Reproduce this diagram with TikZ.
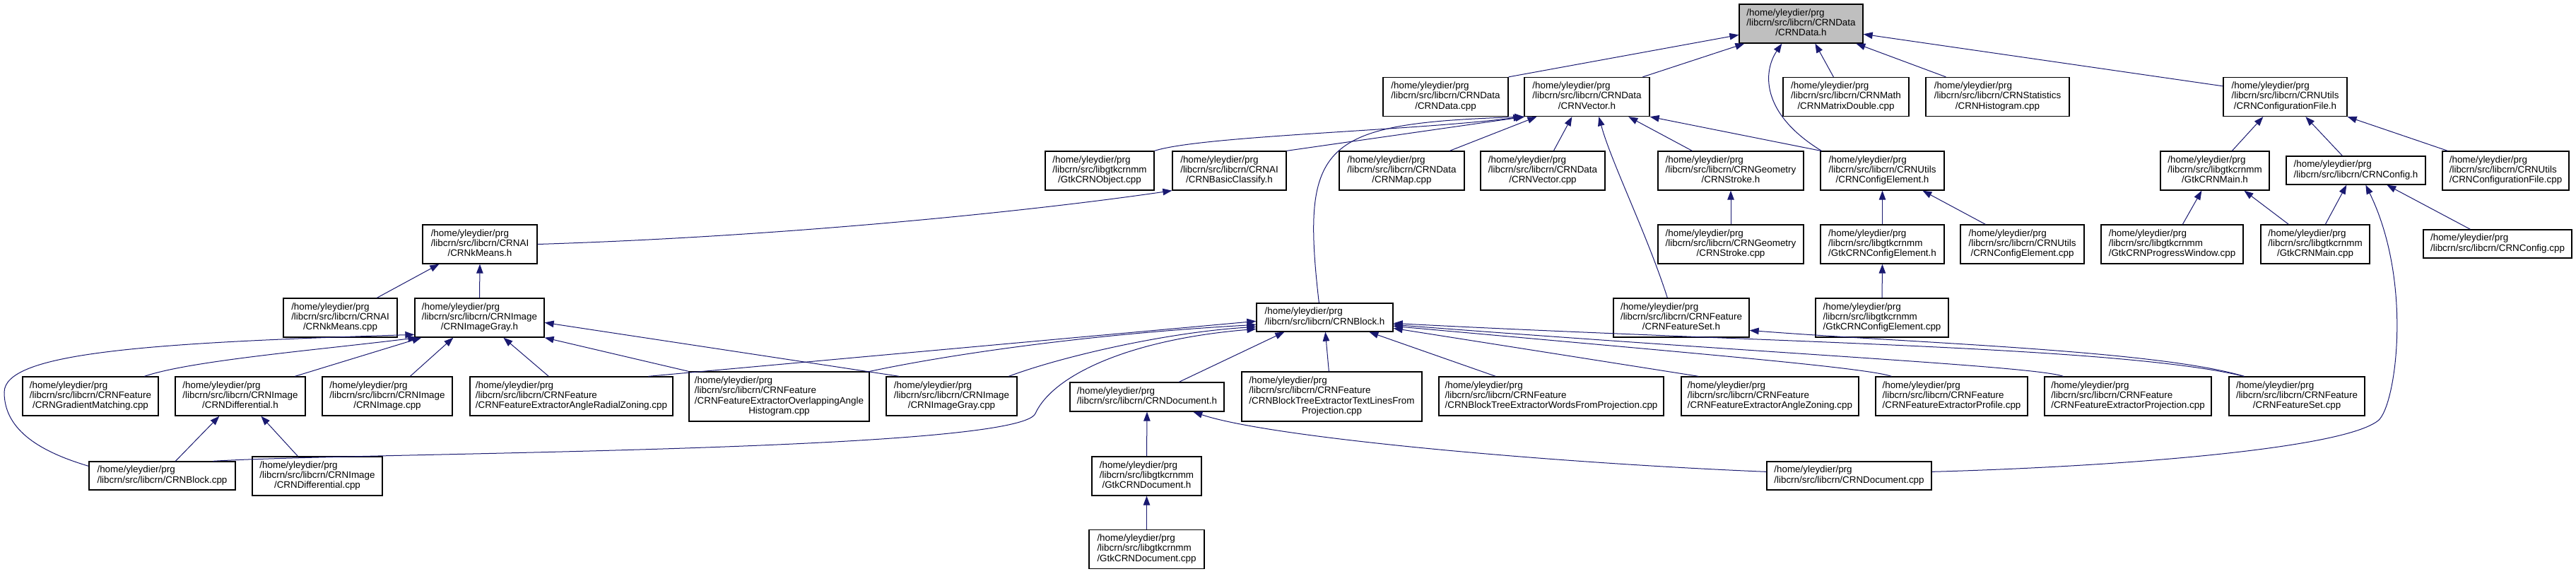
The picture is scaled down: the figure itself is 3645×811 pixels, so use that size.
\documentclass[tikz,border=0pt]{standalone}
\usepackage{fontspec}
\setmainfont{Liberation Sans}
\usetikzlibrary{arrows.meta}
\definecolor{edgeblue}{HTML}{191970}
\definecolor{focusgrey}{HTML}{BFBFBF}
\newcommand{\fpath}[2]{\begin{tabular}{@{}l@{}}#1\\\multicolumn{1}{@{}c@{}}{#2}\end{tabular}}
\tikzset{
  filenode/.style={draw=black, line width=1.3pt, fill=white, inner sep=0pt,
    minimum height=55pt, font=\fontsize{13.4pt}{14.3pt}\selectfont},
  incl/.style={draw=edgeblue, line width=1pt, -{Triangle[length=13pt,width=9.5pt]}},
}
\begin{document}
\begin{tikzpicture}[x=1pt, y=-1pt]
  \useasboundingbox (0,0) rectangle (3645,811);

  \node[filenode, minimum width=175pt, fill=focusgrey] (datah) at (2548.5,33.5) {\fpath{/home/yleydier/prg\\/libcrn/src/libcrn/CRNData}{/CRNData.h}};

  \node[filenode, minimum width=177pt] (datacpp) at (2045.5,137) {\fpath{/home/yleydier/prg\\/libcrn/src/libcrn/CRNData}{/CRNData.cpp}};
  \node[filenode, minimum width=177pt] (vectorh) at (2245.5,137) {\fpath{/home/yleydier/prg\\/libcrn/src/libcrn/CRNData}{/CRNVector.h}};
  \node[filenode, minimum width=178pt] (matrixcpp) at (2612,137) {\fpath{/home/yleydier/prg\\/libcrn/src/libcrn/CRNMath}{/CRNMatrixDouble.cpp}};
  \node[filenode, minimum width=203pt] (histogramcpp) at (2826.5,137) {\fpath{/home/yleydier/prg\\/libcrn/src/libcrn/CRNStatistics}{/CRNHistogram.cpp}};
  \node[filenode, minimum width=175pt] (conffileh) at (3233.5,137) {\fpath{/home/yleydier/prg\\/libcrn/src/libcrn/CRNUtils}{/CRNConfigurationFile.h}};

  \node[filenode, minimum width=154pt] (gtkobjectcpp) at (1556,241.5) {\fpath{/home/yleydier/prg\\/libcrn/src/libgtkcrnmm}{/GtkCRNObject.cpp}};
  \node[filenode, minimum width=161pt] (basicclassifyh) at (1739.5,241.5) {\fpath{/home/yleydier/prg\\/libcrn/src/libcrn/CRNAI}{/CRNBasicClassify.h}};
  \node[filenode, minimum width=177pt] (mapcpp) at (1983.5,241.5) {\fpath{/home/yleydier/prg\\/libcrn/src/libcrn/CRNData}{/CRNMap.cpp}};
  \node[filenode, minimum width=176pt] (vectorcpp) at (2183,241.5) {\fpath{/home/yleydier/prg\\/libcrn/src/libcrn/CRNData}{/CRNVector.cpp}};
  \node[filenode, minimum width=206pt] (strokeh) at (2449,241.5) {\fpath{/home/yleydier/prg\\/libcrn/src/libcrn/CRNGeometry}{/CRNStroke.h}};
  \node[filenode, minimum width=175pt] (confelemh) at (2663.5,241.5) {\fpath{/home/yleydier/prg\\/libcrn/src/libcrn/CRNUtils}{/CRNConfigElement.h}};
  \node[filenode, minimum width=154pt] (gtkmainh) at (3134,241.5) {\fpath{/home/yleydier/prg\\/libcrn/src/libgtkcrnmm}{/GtkCRNMain.h}};
  \node[filenode, minimum width=197pt, minimum height=40pt] (configh) at (3333.5,241) {\fpath{/home/yleydier/prg}{/libcrn/src/libcrn/CRNConfig.h}};
  \node[filenode, minimum width=179pt] (conffilecpp) at (3545.5,241.5) {\fpath{/home/yleydier/prg\\/libcrn/src/libcrn/CRNUtils}{/CRNConfigurationFile.cpp}};

  \node[filenode, minimum width=162pt] (kmeansh) at (679,345.5) {\fpath{/home/yleydier/prg\\/libcrn/src/libcrn/CRNAI}{/CRNkMeans.h}};
  \node[filenode, minimum width=206pt] (strokecpp) at (2449,345.5) {\fpath{/home/yleydier/prg\\/libcrn/src/libcrn/CRNGeometry}{/CRNStroke.cpp}};
  \node[filenode, minimum width=175pt] (gtkconfelemh) at (2663.5,345.5) {\fpath{/home/yleydier/prg\\/libcrn/src/libgtkcrnmm}{/GtkCRNConfigElement.h}};
  \node[filenode, minimum width=175pt] (confelemcpp) at (2861.5,345.5) {\fpath{/home/yleydier/prg\\/libcrn/src/libcrn/CRNUtils}{/CRNConfigElement.cpp}};
  \node[filenode, minimum width=201pt] (progresscpp) at (3073.5,345.5) {\fpath{/home/yleydier/prg\\/libcrn/src/libgtkcrnmm}{/GtkCRNProgressWindow.cpp}};
  \node[filenode, minimum width=154pt] (gtkmaincpp) at (3276,345.5) {\fpath{/home/yleydier/prg\\/libcrn/src/libgtkcrnmm}{/GtkCRNMain.cpp}};
  \node[filenode, minimum width=210pt, minimum height=40pt] (configcpp) at (3534,345) {\fpath{/home/yleydier/prg}{/libcrn/src/libcrn/CRNConfig.cpp}};

  \node[filenode, minimum width=161pt] (kmeanscpp) at (481.5,449.5) {\fpath{/home/yleydier/prg\\/libcrn/src/libcrn/CRNAI}{/CRNkMeans.cpp}};
  \node[filenode, minimum width=183pt] (imagegrayh) at (678.5,449.5) {\fpath{/home/yleydier/prg\\/libcrn/src/libcrn/CRNImage}{/CRNImageGray.h}};
  \node[filenode, minimum width=193pt, minimum height=40pt] (blockh) at (1874.5,449) {\fpath{/home/yleydier/prg}{/libcrn/src/libcrn/CRNBlock.h}};
  \node[filenode, minimum width=192pt] (featureseth) at (2379,449.5) {\fpath{/home/yleydier/prg\\/libcrn/src/libcrn/CRNFeature}{/CRNFeatureSet.h}};
  \node[filenode, minimum width=188pt] (gtkconfelemcpp) at (2663,449.5) {\fpath{/home/yleydier/prg\\/libcrn/src/libgtkcrnmm}{/GtkCRNConfigElement.cpp}};

  \node[filenode, minimum width=192pt] (gradientcpp) at (128,560.5) {\fpath{/home/yleydier/prg\\/libcrn/src/libcrn/CRNFeature}{/CRNGradientMatching.cpp}};
  \node[filenode, minimum width=184pt] (differentialh) at (340,560.5) {\fpath{/home/yleydier/prg\\/libcrn/src/libcrn/CRNImage}{/CRNDifferential.h}};
  \node[filenode, minimum width=184pt] (imagecpp) at (548,560.5) {\fpath{/home/yleydier/prg\\/libcrn/src/libcrn/CRNImage}{/CRNImage.cpp}};
  \node[filenode, minimum width=287pt] (radialcpp) at (808.5,560.5) {\fpath{/home/yleydier/prg\\/libcrn/src/libcrn/CRNFeature}{/CRNFeatureExtractorAngleRadialZoning.cpp}};
  \node[filenode, minimum width=255pt, minimum height=70pt] (overlapcpp) at (1102.5,561) {\fpath{/home/yleydier/prg\\/libcrn/src/libcrn/CRNFeature\\/CRNFeatureExtractorOverlappingAngle}{Histogram.cpp}};
  \node[filenode, minimum width=185pt] (imagegraycpp) at (1346.5,560.5) {\fpath{/home/yleydier/prg\\/libcrn/src/libcrn/CRNImage}{/CRNImageGray.cpp}};
  \node[filenode, minimum width=218pt, minimum height=41pt] (documenth) at (1623,561.5) {\fpath{/home/yleydier/prg}{/libcrn/src/libcrn/CRNDocument.h}};
  \node[filenode, minimum width=255pt, minimum height=70pt] (textlinescpp) at (1884.5,561) {\fpath{/home/yleydier/prg\\/libcrn/src/libcrn/CRNFeature\\/CRNBlockTreeExtractorTextLinesFrom}{Projection.cpp}};
  \node[filenode, minimum width=318pt] (wordscpp) at (2195,560.5) {\fpath{/home/yleydier/prg\\/libcrn/src/libcrn/CRNFeature}{/CRNBlockTreeExtractorWordsFromProjection.cpp}};
  \node[filenode, minimum width=251pt] (anglezoningcpp) at (2504.5,560.5) {\fpath{/home/yleydier/prg\\/libcrn/src/libcrn/CRNFeature}{/CRNFeatureExtractorAngleZoning.cpp}};
  \node[filenode, minimum width=215pt] (profilecpp) at (2761.5,560.5) {\fpath{/home/yleydier/prg\\/libcrn/src/libcrn/CRNFeature}{/CRNFeatureExtractorProfile.cpp}};
  \node[filenode, minimum width=236pt] (projectioncpp) at (3011,560.5) {\fpath{/home/yleydier/prg\\/libcrn/src/libcrn/CRNFeature}{/CRNFeatureExtractorProjection.cpp}};
  \node[filenode, minimum width=192pt] (featuresetcpp) at (3250,560.5) {\fpath{/home/yleydier/prg\\/libcrn/src/libcrn/CRNFeature}{/CRNFeatureSet.cpp}};

  \node[filenode, minimum width=207pt, minimum height=40pt] (blockcpp) at (229.5,673) {\fpath{/home/yleydier/prg}{/libcrn/src/libcrn/CRNBlock.cpp}};
  \node[filenode, minimum width=184pt] (differentialcpp) at (449,673.5) {\fpath{/home/yleydier/prg\\/libcrn/src/libcrn/CRNImage}{/CRNDifferential.cpp}};
  \node[filenode, minimum width=155pt] (gtkdocumenth) at (1622.5,673.5) {\fpath{/home/yleydier/prg\\/libcrn/src/libgtkcrnmm}{/GtkCRNDocument.h}};
  \node[filenode, minimum width=233pt, minimum height=40pt] (documentcpp) at (2616.5,673) {\fpath{/home/yleydier/prg}{/libcrn/src/libcrn/CRNDocument.cpp}};

  \node[filenode, minimum width=163pt] (gtkdocumentcpp) at (1622.5,777) {\fpath{/home/yleydier/prg\\/libcrn/src/libgtkcrnmm}{/GtkCRNDocument.cpp}};

  \draw[incl] (datacpp.north east) -- ([yshift=-44pt]datah.north west);
  \draw[incl] ([xshift=168pt]vectorh.north west) -- ([xshift=8pt]datah.south west);
  \draw[incl] ([xshift=2pt]confelemh.north west) .. controls (2490,160) and (2495,100) .. ([xshift=61pt]datah.south west);
  \draw[incl] ([xshift=72pt]matrixcpp.north west) -- ([xshift=108pt]datah.south west);
  \draw[incl] ([xshift=29pt]histogramcpp.north west) -- ([xshift=166pt]datah.south west);
  \draw[incl] ([yshift=-13pt]conffileh.north west) -- ([yshift=-43pt]datah.north east);

  \draw[incl] (gtkobjectcpp.north east) .. controls (1700,192) and (2000,185) .. ([xshift=-2pt]vectorh.south west);
  \draw[incl] (basicclassifyh.north east) -- ([xshift=1pt]vectorh.south west);
  \draw[incl] ([xshift=89pt]blockh.north west) .. controls (1840,200) and (1870,175) .. (vectorh.south west);
  \draw[incl] ([xshift=157pt]mapcpp.north west) -- ([xshift=18pt]vectorh.south west);
  \draw[incl] ([xshift=104pt]vectorcpp.north west) -- ([xshift=68pt]vectorh.south west);
  \draw[incl] ([xshift=77pt]featureseth.north west) .. controls (2330,330) and (2280,230) .. ([xshift=106pt]vectorh.south west);
  \draw[incl] ([xshift=49pt]strokeh.north west) -- ([xshift=148pt]vectorh.south west);
  \draw[incl] ([xshift=1pt]confelemh.north west) -- (vectorh.south east);

  \draw[incl] (strokecpp.north) -- (strokeh.south);
  \draw[incl] (gtkconfelemh.north) -- (confelemh.south);
  \draw[incl] (gtkconfelemcpp.north) -- (gtkconfelemh.south);
  \draw[incl] ([xshift=36pt]confelemcpp.north west) -- ([xshift=145pt]confelemh.south west);

  \draw[incl] ([xshift=102pt]gtkmainh.north west) -- ([xshift=57pt]conffileh.south west);
  \draw[incl] ([xshift=80pt]configh.north west) -- ([xshift=117pt]conffileh.south west);
  \draw[incl] ([xshift=8pt]conffilecpp.north west) -- (conffileh.south east);
  \draw[incl] ([xshift=116pt]progresscpp.north west) -- ([xshift=59pt]gtkmainh.south west);
  \draw[incl] ([xshift=40pt]gtkmaincpp.north west) -- ([xshift=119pt]gtkmainh.south west);
  \draw[incl] ([xshift=92pt]gtkmaincpp.north west) -- ([xshift=86pt]configh.south west);
  \draw[incl] ([xshift=67pt]configcpp.north west) -- ([xshift=143pt]configh.south west);
  \draw[incl] ([yshift=-15pt]documentcpp.north east) .. controls (3000,660) and (3315,635) .. (3365,595)
    .. controls (3390,575) and (3415,400) .. ([xshift=113pt]configh.south west);

  \draw[incl] ([xshift=133pt]kmeanscpp.north west) -- ([xshift=24pt]kmeansh.south west);
  \draw[incl] (imagegrayh.north) -- (kmeansh.south);
  \draw[incl] (kmeansh.east) .. controls (1100,335) and (1450,300) .. (basicclassifyh.south west);

  \draw[incl] ([xshift=173pt]gradientcpp.north west) .. controls (270,510) and (450,495) .. ([xshift=4pt]imagegrayh.south west);
  \draw[incl] ([yshift=-7pt]blockcpp.north west) .. controls (60,640) and (6,610) .. (6,555)
    .. controls (6,500) and (200,485) .. ([yshift=-52pt]imagegrayh.north west);
  \draw[incl] ([xshift=170pt]differentialh.north west) -- ([xshift=10pt]imagegrayh.south west);
  \draw[incl] ([xshift=125pt]imagecpp.north west) -- ([xshift=55pt]imagegrayh.south west);
  \draw[incl] ([xshift=112pt]radialcpp.north west) -- ([xshift=126pt]imagegrayh.south west);
  \draw[incl] (overlapcpp.north west) -- (imagegrayh.south east);
  \draw[incl] ([xshift=19pt]imagegraycpp.north west) -- ([yshift=-35pt]imagegrayh.north east);
  \draw[incl] ([xshift=123pt]blockcpp.north west) -- ([xshift=63pt]differentialh.south west);
  \draw[incl] ([xshift=65pt]differentialcpp.north west) -- ([xshift=122pt]differentialh.south west);

  \draw[incl] ([xshift=253pt]radialcpp.north west) -- ([yshift=-26pt]blockh.north west);
  \draw[incl] (overlapcpp.north east) .. controls (1350,500) and (1550,472) .. ([yshift=-31pt]blockh.north west);
  \draw[incl] ([xshift=174pt]imagegraycpp.north west) .. controls (1500,505) and (1650,470) .. ([yshift=-34pt]blockh.north west);
  \draw[incl] ([xshift=176pt]blockcpp.north west) .. controls (500,640) and (1440,640) .. (1465,585)
    .. controls (1490,530) and (1600,480) .. ([yshift=-37pt]blockh.north west);
  \draw[incl] ([xshift=155pt]documenth.north west) -- ([xshift=40pt]blockh.south west);
  \draw[incl] ([xshift=124pt]textlinescpp.north west) -- ([xshift=98pt]blockh.south west);
  \draw[incl] ([xshift=81pt]wordscpp.north west) -- ([xshift=160pt]blockh.south west);
  \draw[incl] ([xshift=25pt]anglezoningcpp.north west) -- ([yshift=-36pt]blockh.north east);
  \draw[incl] ([xshift=23pt]profilecpp.north west) .. controls (2640,520) and (2400,500) .. ([yshift=-33pt]blockh.north east);
  \draw[incl] ([xshift=27pt]projectioncpp.north west) .. controls (2880,518) and (2500,500) .. ([yshift=-31pt]blockh.north east);
  \draw[incl] ([xshift=22pt]featuresetcpp.north west) .. controls (3000,490) and (2500,485) .. ([yshift=-29pt]blockh.north east);
  \draw[incl] ([xshift=22pt]featuresetcpp.north west) .. controls (3050,495) and (2700,485) .. ([yshift=-46pt]featureseth.north east);

  \draw[incl] ([yshift=-15pt]documentcpp.north west) .. controls (2200,655) and (1800,620) .. ([xshift=175pt]documenth.south west);
  \draw[incl] (gtkdocumenth.north) -- (documenth.south);
  \draw[incl] (gtkdocumentcpp.north) -- (gtkdocumenth.south);
\end{tikzpicture}
\end{document}
